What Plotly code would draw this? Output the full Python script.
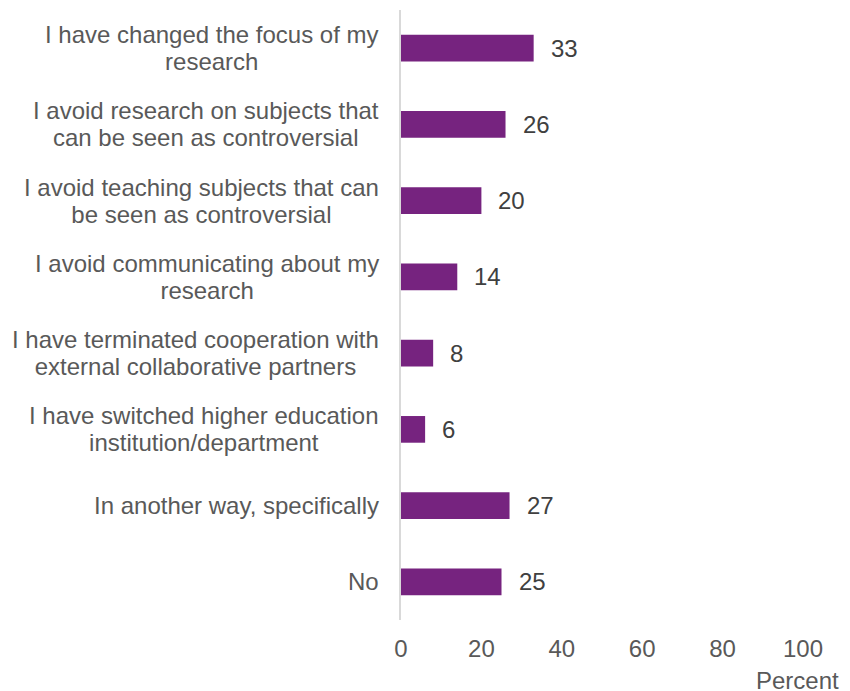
import plotly.graph_objects as go

# Survey responses: ways in which respondents have changed their work
categories = [
    "I have changed the focus of my<br>research",
    "I avoid research on subjects that<br>can be seen as controversial",
    "I avoid teaching subjects that can<br>be seen as controversial",
    "I avoid communicating about my<br>research",
    "I have terminated cooperation with<br>external collaborative partners",
    "I have switched higher education<br>institution/department",
    "In another way, specifically",
    "No",
]
values = [33, 26, 20, 14, 8, 6, 27, 25]
x_ticks = [0, 20, 40, 60, 80, 100]
x_title = "Percent"

BAR_COLOR = "#76237F"
LABEL_COLOR = "#595959"
VALUE_COLOR = "#404040"
FONT = "Liberation Sans, Arial, sans-serif"
FS = 24
LINE_PX = 27  # distance between wrapped label lines

fig = go.Figure(
    go.Bar(
        x=values,
        y=categories,
        orientation="h",
        marker=dict(color=BAR_COLOR, line=dict(width=0)),
        hoverinfo="skip",
    )
)

annotations = []
for cat, val in zip(categories, values):
    # category label, lines centred on each other, right edge next to the axis
    lines = cat.split("<br>")
    styled = "<br>".join(
        f'<span style="font-size:{FS}px">{ln}</span>' for ln in lines
    )
    annotations.append(dict(
        x=0, y=cat, xref="x", yref="y",
        text=styled, showarrow=False,
        xanchor="right", yanchor="middle", align="center",
        xshift=-20, yshift=0,
        font=dict(family=FONT, size=LINE_PX / 1.3, color=LABEL_COLOR),
    ))
    # value label just past the end of the bar
    annotations.append(dict(
        x=val, y=cat, xref="x", yref="y",
        text=str(val), showarrow=False,
        xanchor="left", yanchor="middle",
        xshift=15,
        font=dict(family=FONT, size=FS, color=VALUE_COLOR),
    ))

annotations.append(dict(
    x=1, y=0, xref="paper", yref="paper",
    text=x_title, showarrow=False,
    xanchor="right", yanchor="middle",
    xshift=37, yshift=-60, borderpad=0,
    font=dict(family=FONT, size=FS, color=LABEL_COLOR),
))

fig.update_layout(
    width=850, height=691,
    margin=dict(l=401, r=47, t=10, b=71),
    paper_bgcolor="white", plot_bgcolor="white",
    showlegend=False,
    bargap=0.65,
    font=dict(family=FONT, size=FS, color=LABEL_COLOR),
    annotations=annotations,
    xaxis=dict(
        range=[0, 100],
        tickvals=x_ticks,
        ticktext=[str(t) for t in x_ticks],
        showgrid=False, zeroline=False, showline=False,
        ticks="", ticklabelstandoff=12,
        tickfont=dict(family=FONT, size=FS, color=LABEL_COLOR),
        fixedrange=True,
    ),
    yaxis=dict(
        categoryorder="array",
        categoryarray=categories[::-1],
        showticklabels=False,
        showgrid=False, zeroline=False,
        showline=True, linecolor="#D9D9D9", linewidth=2,
        ticks="",
        fixedrange=True,
    ),
)

fig.write_html("out.html")
